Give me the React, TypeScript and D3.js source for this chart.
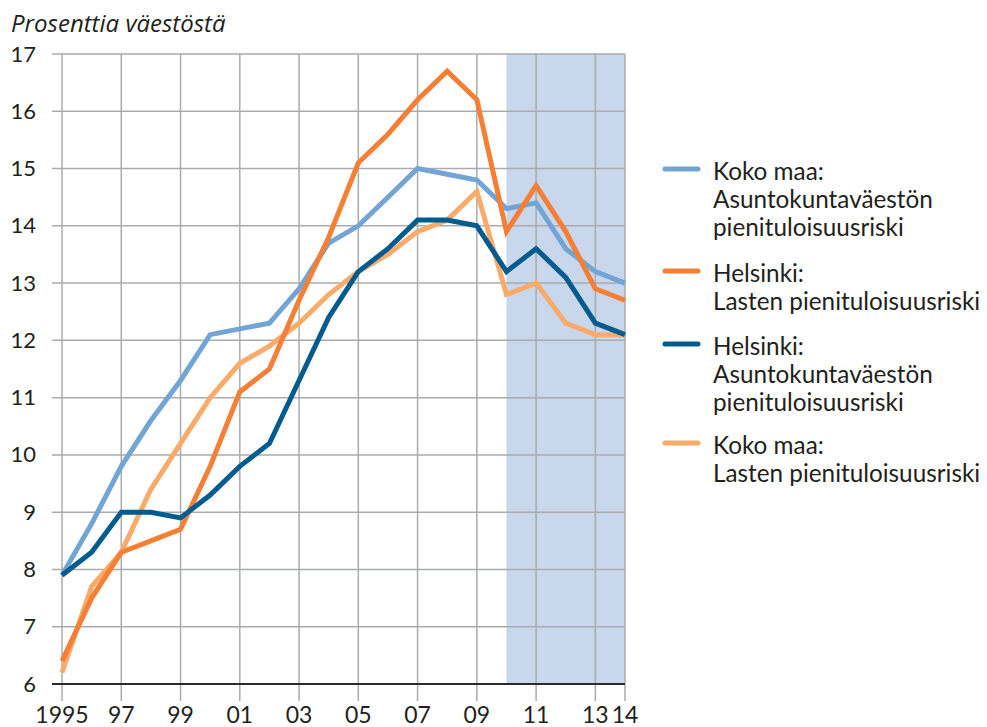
import React from "react";
import * as d3 from "d3";

const years = [1995, 1996, 1997, 1998, 1999, 2000, 2001, 2002, 2003, 2004, 2005, 2006, 2007, 2008, 2009, 2010, 2011, 2012, 2013, 2014];
const kokoMaaAsunto = [7.9, 8.8, 9.8, 10.6, 11.3, 12.1, 12.2, 12.3, 12.9, 13.7, 14.0, 14.5, 15.0, 14.9, 14.8, 14.3, 14.4, 13.6, 13.2, 13.0];
const helsinkiLapset = [6.4, 7.5, 8.3, 8.5, 8.7, 9.8, 11.1, 11.5, 12.7, 13.8, 15.1, 15.6, 16.2, 16.7, 16.2, 13.9, 14.7, 13.9, 12.9, 12.7];
const helsinkiAsunto = [7.9, 8.3, 9.0, 9.0, 8.9, 9.3, 9.8, 10.2, 11.3, 12.4, 13.2, 13.6, 14.1, 14.1, 14.0, 13.2, 13.6, 13.1, 12.3, 12.1];
const kokoMaaLapset = [6.2, 7.7, 8.3, 9.4, 10.2, 11.0, 11.6, 11.9, 12.3, 12.8, 13.2, 13.5, 13.9, 14.1, 14.6, 12.8, 13.0, 12.3, 12.1, 12.1];

const xTickYears = [1995, 1997, 1999, 2001, 2003, 2005, 2007, 2009, 2011, 2013, 2014];
const xTickLabels = ["1995", "97", "99", "01", "03", "05", "07", "09", "11", "13", "14"];
const yTicks = [6, 7, 8, 9, 10, 11, 12, 13, 14, 15, 16, 17];
const shadeRange = [2010, 2014];

const yTitle = "Prosenttia väestöstä";

const seriesDefs = [
  { key: "kma", values: kokoMaaAsunto, color: "#72a5d6", label: ["Koko maa:", "Asuntokuntaväestön", "pienituloisuusriski"] },
  { key: "hl", values: helsinkiLapset, color: "#f47f35", label: ["Helsinki:", "Lasten pienituloisuusriski"] },
  { key: "ha", values: helsinkiAsunto, color: "#005b8f", label: ["Helsinki:", "Asuntokuntaväestön", "pienituloisuusriski"] },
  { key: "kml", values: kokoMaaLapset, color: "#fbab69", label: ["Koko maa:", "Lasten pienituloisuusriski"] },
];
const drawOrder = ["kma", "kml", "hl", "ha"];

const FONT = "Lato, 'Liberation Sans', sans-serif";

export default function App() {
  const W = 987, H = 727;
  const x = d3.scaleLinear().domain([1995, 2014]).range([62, 625]);
  const y = d3.scaleLinear().domain([6, 17]).range([684, 54]);
  const line = d3.line<number>().x((_, i) => x(years[i])).y((d) => y(d));

  const legendY = [169, 271, 344, 443];

  return (
    <svg width={W} height={H} style={{ position: "absolute", left: 0, top: 0, background: "#fff" }} fontFamily={FONT}>
      <rect x={0} y={0} width={W} height={H} fill="#fff" />
      <rect x={x(shadeRange[0])} y={y(17)} width={x(shadeRange[1]) - x(shadeRange[0])} height={y(6) - y(17)} fill="#c8d7ec" />
      {yTicks.filter((t) => t > 6).map((t) => (
        <line key={"h" + t} x1={52} x2={x(2014)} y1={y(t)} y2={y(t)} stroke="#a9abae" strokeWidth={1.5} />
      ))}
      {xTickYears.map((yr) => (
        <line key={"v" + yr} x1={x(yr)} x2={x(yr)} y1={y(17)} y2={701} stroke="#a9abae" strokeWidth={1.5} />
      ))}
      <line x1={52} x2={x(2014)} y1={y(6)} y2={y(6)} stroke="#2b2b2b" strokeWidth={2} />
      {drawOrder.map((k) => {
        const s = seriesDefs.find((d) => d.key === k)!;
        return <path key={k} d={line(s.values) || ""} fill="none" stroke={s.color} strokeWidth={5} strokeLinejoin="miter" />;
      })}
      {yTicks.map((t) => (
        <text key={"yl" + t} x={36} y={y(t) + 7.5} textAnchor="end" fontSize={22} fill="#231f20">{t}</text>
      ))}
      {xTickYears.map((yr, i) => (
        <text key={"xl" + yr} x={x(yr)} y={723} textAnchor="middle" fontSize={23} fill="#231f20">{xTickLabels[i]}</text>
      ))}
      <text x={11} y={32} fontSize={24} fontStyle="italic" fill="#231f20" fontFamily="'Open Sans', sans-serif">{yTitle}</text>
      {seriesDefs.map((s, i) => (
        <g key={"lg" + s.key}>
          <line x1={665} x2={698} y1={legendY[i]} y2={legendY[i]} stroke={s.color} strokeWidth={5} strokeLinecap="round" />
          {s.label.map((l, j) => (
            <text key={j} x={713} y={legendY[i] + 11 + j * 28} fontSize={24.3} fill="#231f20">{l}</text>
          ))}
        </g>
      ))}
    </svg>
  );
}
